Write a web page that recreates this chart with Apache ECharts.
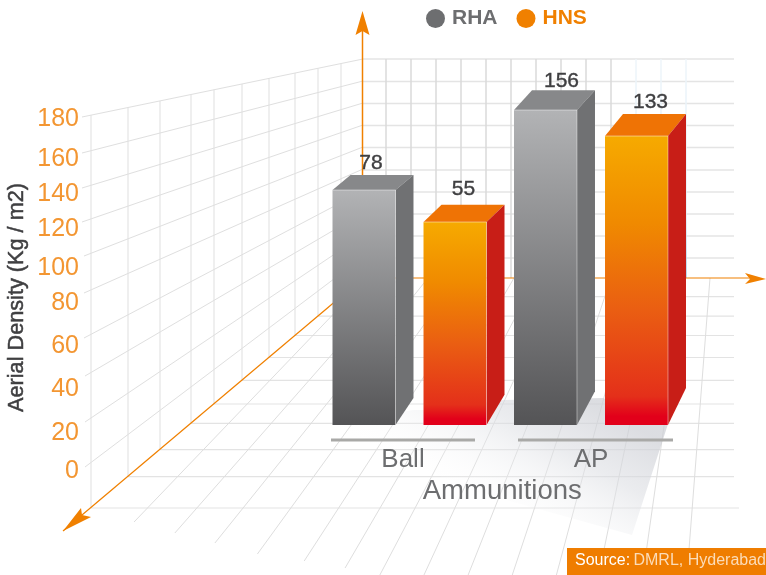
<!DOCTYPE html>
<html><head><meta charset="utf-8">
<style>html,body{margin:0;padding:0;background:#fff}#c{width:766px;height:575px}</style>
<script src="https://cdn.jsdelivr.net/npm/echarts@6/dist/echarts.min.js"></script>
</head><body><div id="c"></div>
<script>
// ---- data ----
const categories = ['Ball', 'AP'];
const rhaValues = [78, 156];
const hnsValues = [55, 133];
const tickLabels = ['0','20','40','60','80','100','120','140','160','180'];
// the hand-drawn axis spaces its labels unevenly: where each label sits on the 0-180 scale
const tickAnchors = [0, 19.4, 41.9, 63.9, 85.9, 103.8, 123.7, 141.6, 160, 180];

// ---- colours ----
const ORANGE = '#f08000', GRAY = '#6d6e70', TXT = '#3f3f41';

// ---- perspective scene (decoration) ----
const backWallRows = [59,81.5,103.5,125.5,147.5,170,192,214,236,258];
const backWallCols = [386,411,436,461,486,511,536,561,586,611];
const backWallTintCols = [636,661,686];
const sideFrontY = [117,153,188,222,256,293,338,376,422,467];
const sideCols = [128,160,191,214,242,269,295,318,341];
const floorRays = [[368,522],[399,533],[428,543],[458,554],[488,561],[514,568],[536,575],[561,575],[586,575],[611,575],[636,575],[660,548],[685,548],[710,548]];
const groupRules = [[331,475],[518,673]];

const L = (x1,y1,x2,y2,stroke,lw,z) => ({type:'line',silent:true,z:z||0,shape:{x1,y1,x2,y2},style:{stroke,lineWidth:lw}});
const P = (points,fill,z) => ({type:'polygon',silent:true,z:z||0,shape:{points},style:{fill}});
const sideTopY = x => 117-(x-82)*0.2064;
const floorEdgeY = x => 508-(x-91)*0.8456;

const scene = [];
const tintGrad = new echarts.graphic.LinearGradient(0,0,0,1,[{offset:0,color:'#eef5fa'},{offset:.7,color:'#dfeef8'},{offset:1,color:'#9ccbe9'}]);
backWallRows.forEach(y=>scene.push(L(363,y,734,y,'#e4e4e4',1.5)));
backWallCols.forEach(x=>scene.push(L(x,59,x,278,'#dadada',1.5)));
backWallTintCols.forEach(x=>scene.push(L(x,59,x+.01,278,tintGrad,1.5)));
// left wall
sideFrontY.forEach((y,i)=>scene.push(L(i<4?82:(i<7?84:85),y,363,59+i*22>278?278:59+i*22,'#dfdfdf',1)));
scene.push(L(91,sideTopY(91),91,508,'#dfdfdf',1));
sideCols.forEach(x=>scene.push(L(x,sideTopY(x),x,floorEdgeY(x),'#dfdfdf',1)));
// floor
sideCols.forEach(x=>scene.push(L(x,floorEdgeY(x),734,floorEdgeY(x),'#e3e3e3',1.2)));
scene.push(L(91,508,739,508,'#e3e3e3',1.2));
floorRays.forEach(([x0,yEnd])=>{
  const xEnd = x0-(740-x0)*(yEnd-278)/388;
  scene.push(L(x0,278,xEnd,yEnd,'#dedede',1));
});
// floor shadow
scene.push(P([[330,425],[413,410],[423,410],[504,400],[603,398],[668,424],[632,535],[470,490]],
  new echarts.graphic.LinearGradient(0.75,0,0.52,1,[{offset:0,color:'rgba(205,207,213,.7)'},{offset:.35,color:'rgba(218,220,225,.55)'},{offset:.97,color:'rgba(255,255,255,0)'}]),1));
// orange axes
scene.push(L(363,278,63,531,ORANGE,1.2,2), L(363,278,750,278,ORANGE,1.2,2), L(362.5,278,362.5,30,ORANGE,1.5,2));
scene.push(P([[362.5,11],[369.5,35],[362.5,31],[355.5,35]],ORANGE,2));
scene.push(P([[766,279],[745,273],[750,279],[745,284]],ORANGE,2));
scene.push(P([[63,531],[81,508],[82,515],[91,517]],ORANGE,2));
// group rules
groupRules.forEach(([a,b])=>scene.push(L(a,440,b,440,'#a9a9a7',3,3)));
// source box
scene.push({type:'rect',silent:true,z:20,shape:{x:567,y:548,width:199,height:27},style:{fill:'#ef7d00'}});
scene.push({type:'text',silent:true,z:21,x:575,y:561,style:{
  rich:{a:{fill:'#fff',font:'16px "Liberation Sans"'},b:{fill:'#fbdcb8',font:'16px "Liberation Sans"'}},
  text:'{a|Source:} {b|DMRL, Hyderabad}',verticalAlign:'middle'}});

// ---- bars ----
const rhaMin = -151.1, rhaMax = 238.9, hnsMin = -129.1, hnsMax = 233.7;
const rhaFront = new echarts.graphic.LinearGradient(0,0,0,1,[{offset:0,color:'#b2b3b5'},{offset:1,color:'#545456'}]);
const hnsFront = new echarts.graphic.LinearGradient(0,0,0,1,[{offset:0,color:'#f6aa00'},{offset:.3,color:'#f08a00'},{offset:.6,color:'#ea5e12'},{offset:.9,color:'#e4301a'},{offset:.97,color:'#e2001a'},{offset:1,color:'#e2001a'}]);
const labelShift = {RHA:[7,16], HNS:[8.5,14]};
const labelLift = {RHA:[12,9], HNS:[15,12]};

function barRender(sign, axisMin, front, topFace, sideFace, name){
  return function(params, api){
    const cat = api.value(0), val = api.value(1);
    const band = api.size([1,0])[0];
    const c = api.coord([cat, val]);
    const b = api.coord([cat, axisMin]);
    const w = band*0.347;
    const xl = c[0]+sign*band*0.2507-w/2, xr = xl+w;
    const t = c[1], y0 = b[1];
    const dx = 18;
    const riseTop = 15+(xl-333)*7/272, riseBot = 27+(xl-333)*10/272;
    const sh = p=>({type:'polygon',silent:true,shape:{points:p.points},style:{fill:p.fill}});
    return {type:'group',children:[
      sh({points:[[xl,t],[xr,t],[xr+dx,t-riseTop],[xl+dx,t-riseTop]],fill:topFace}),
      sh({points:[[xr,t],[xr+dx,t-riseTop],[xr+dx,y0-riseBot],[xr,y0]],fill:sideFace}),
      {type:'rect',silent:true,shape:{x:xl,y:t,width:w,height:y0-t},style:{fill:front}},
      {type:'line',silent:true,shape:{x1:xl,y1:t,x2:xr,y2:t},style:{stroke:'rgba(255,255,255,.45)',lineWidth:1}},
      {type:'line',silent:true,shape:{x1:xr,y1:t,x2:xr,y2:y0},style:{stroke:'rgba(255,255,255,.4)',lineWidth:1}},
      {type:'text',silent:true,style:{text:String(val),x:(xl+xr)/2+labelShift[name][cat],y:t-riseTop-labelLift[name][cat],
        align:'center',verticalAlign:'middle',fill:TXT,stroke:TXT,lineWidth:.4,font:'21px "Liberation Sans"'}}
    ]};
  };
}

const chart = echarts.init(document.getElementById('c'), null, {renderer:'canvas'});
chart.setOption({
  animation:false,
  backgroundColor:'#fff',
  textStyle:{fontFamily:'"Liberation Sans"'},
  legend:{
    left:421,top:3,itemWidth:19,itemHeight:19,itemGap:19,icon:'circle',
    textStyle:{fontSize:21,fontWeight:'bold',fontFamily:'"Liberation Sans"',padding:[0,0,0,2]},
    data:[{name:'RHA',itemStyle:{color:GRAY},textStyle:{color:GRAY}},
          {name:'HNS',itemStyle:{color:ORANGE},textStyle:{color:ORANGE}}]
  },
  grid:[
    {left:318.75,width:363,top:25,bottom:150},
    {left:82,width:300,top:119.5,bottom:103.5}
  ],
  xAxis:[
    {type:'category',gridIndex:0,data:categories,z:6,
     axisLine:{show:false},axisTick:{show:false},
     name:'Ammunitions',nameLocation:'middle',nameGap:52,
     nameTextStyle:{fontSize:27.5,color:GRAY,fontFamily:'"Liberation Sans"',padding:[0,0,0,4]},
     axisLabel:{interval:0,margin:22,color:GRAY,fontSize:26,fontFamily:'"Liberation Sans"',
       formatter:v=>v==='Ball'?'{l|Ball}':v,rich:{l:{fontSize:26,color:GRAY,padding:[0,13,0,0],fontFamily:'"Liberation Sans"'}}}},
    {type:'value',gridIndex:1,min:0,max:1,show:false}
  ],
  yAxis:[
    {type:'value',gridIndex:0,min:rhaMin,max:rhaMax,show:false},
    {type:'value',gridIndex:0,min:hnsMin,max:hnsMax,show:false},
    {type:'value',gridIndex:1,min:0,max:180,position:'left',
     axisLine:{show:false},axisTick:{show:false},splitLine:{show:false},z:6,
     name:'Aerial Density (Kg / m2)',nameLocation:'middle',nameGap:54,nameRotate:90,
     nameTextStyle:{fontSize:21.7,color:TXT,textBorderColor:TXT,textBorderWidth:.5,fontFamily:'"Liberation Sans"',padding:[0,4,0,0]},
     axisLabel:{customValues:tickAnchors,formatter:v=>tickLabels[tickAnchors.indexOf(v)],
       margin:3,color:'#f39632',fontSize:25,fontFamily:'"Liberation Sans"'}}
  ],
  graphic:{elements:scene},
  series:[
    {name:'RHA',type:'custom',xAxisIndex:0,yAxisIndex:0,z:5,clip:false,encode:{x:0,y:1},
     itemStyle:{color:GRAY},
     data:categories.map((c,i)=>[i,rhaValues[i]]),
     renderItem:barRender(-1,rhaMin,rhaFront,'#87888a','#707173','RHA')},
    {name:'HNS',type:'custom',xAxisIndex:0,yAxisIndex:1,z:5,clip:false,encode:{x:0,y:1},
     itemStyle:{color:ORANGE},
     data:categories.map((c,i)=>[i,hnsValues[i]]),
     renderItem:barRender(1,hnsMin,hnsFront,'#ef7305','#c81e17','HNS')}
  ]
});
</script></body></html>
